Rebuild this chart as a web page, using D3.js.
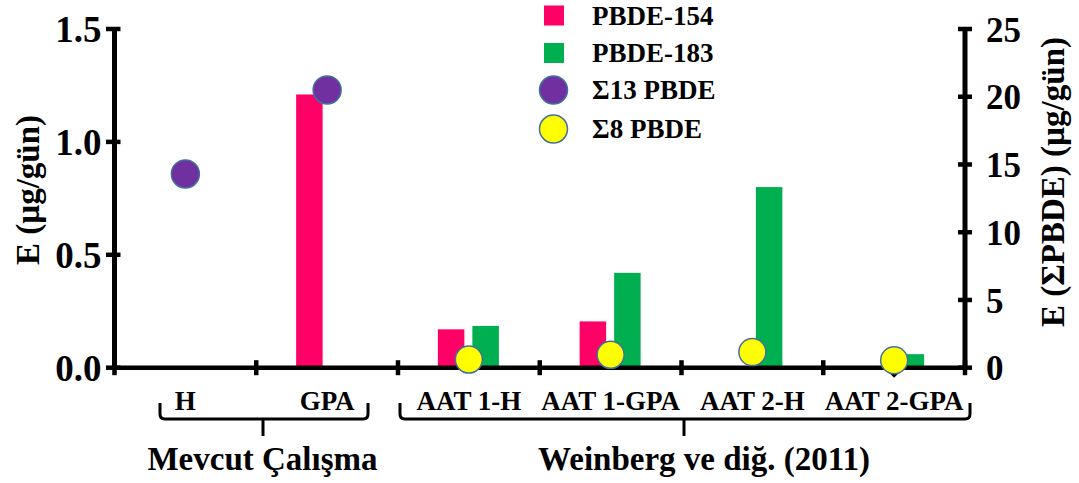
<!DOCTYPE html>
<html>
<head>
<meta charset="utf-8">
<script src="https://cdn.jsdelivr.net/npm/d3@7"></script>
<style>
  html, body { margin: 0; padding: 0; background: #fff; }
  svg { display: block; }
  text { font-family: "Liberation Serif", "Times New Roman", serif; font-weight: bold; fill: #000; }
</style>
</head>
<body>
<svg id="chart" width="1079" height="483"></svg>
<script>
// ---- data ----
const categories = ["H", "GPA", "AAT 1-H", "AAT 1-GPA", "AAT 2-H", "AAT 2-GPA"];
const pbde154 = [null, 1.21, 0.17, 0.205, null, null];      // left axis
const pbde183 = [null, null, 0.185, 0.42, 0.80, 0.06];      // left axis
const sum13   = [14.3, 20.5, null, null, null, null];       // right axis
const sum8    = [null, null, 0.6, 0.95, 1.15, 0.55];        // right axis
const leftTicks  = [0, 0.5, 1.0, 1.5];
const rightTicks = [0, 5, 10, 15, 20, 25];
const groups = [
  { label: "Mevcut Çalışma", from: 0, to: 1 },
  { label: "Weinberg ve diğ. (2011)", from: 2, to: 5 }
];
const legendItems = [
  { label: "PBDE-154", type: "square", color: "#FF0066" },
  { label: "PBDE-183", type: "square", color: "#00B050" },
  { label: "Σ13 PBDE", type: "circle", color: "#7030A0" },
  { label: "Σ8 PBDE",  type: "circle", color: "#FFFF00" }
];

// ---- layout ----
const svg = d3.select("#chart");
const X0 = 114.5, X1 = 965, Y0 = 367.7, YT = 29;
const x = d3.scaleBand().domain(categories).range([X0, X1]).padding(0);
const yL = d3.scaleLinear().domain([0, 1.5]).range([Y0, YT]);
const yR = d3.scaleLinear().domain([0, 25]).range([Y0, YT]);
const xc = c => x(c) + x.bandwidth() / 2;
const barW = 26.5;
const markerStroke = "#41719C";

// bars
const g = svg.append("g");
categories.forEach((c, i) => {
  if (pbde154[i] != null) {
    g.append("rect").attr("x", xc(c) - 31).attr("width", barW)
      .attr("y", yL(pbde154[i])).attr("height", Y0 - yL(pbde154[i]))
      .attr("fill", "#FF0066");
  }
  if (pbde183[i] != null) {
    g.append("rect").attr("x", xc(c) + 3.5).attr("width", barW)
      .attr("y", yL(pbde183[i])).attr("height", Y0 - yL(pbde183[i]))
      .attr("fill", "#00B050");
  }
});

// small marker artifact below last circle
svg.append("path")
  .attr("d", `M${xc(categories[5]) - 6},${Y0 + 4} L${xc(categories[5]) + 6},${Y0 + 4} L${xc(categories[5])},${Y0 + 10} Z`)
  .attr("fill", "#000");

// x axis line & ticks
svg.append("line").attr("x1", X0 - 2).attr("x2", X1 + 2).attr("y1", Y0).attr("y2", Y0)
  .attr("stroke", "#000").attr("stroke-width", 4.5);
const tickXs = categories.map(c => x(c)).concat([X1]);
tickXs.forEach(tx => {
  svg.append("line").attr("x1", tx).attr("x2", tx).attr("y1", Y0 - 7.5).attr("y2", Y0 + 7.5)
    .attr("stroke", "#000").attr("stroke-width", 4.5);
});

// left axis
const leftAxis = d3.axisLeft(yL).tickValues(leftTicks).tickFormat(d3.format(".1f")).tickSize(0).tickPadding(0);
const la = svg.append("g").attr("transform", `translate(${X0},0)`).call(leftAxis);
la.select(".domain").remove();
la.selectAll("text").attr("x", -13).attr("dy", "0.35em").style("font-size", "37px")
  .style("font-family", "'Liberation Serif', serif").style("font-weight", "bold");
svg.append("line").attr("x1", X0).attr("x2", X0).attr("y1", YT - 2).attr("y2", Y0 + 2)
  .attr("stroke", "#000").attr("stroke-width", 5);
leftTicks.forEach(t => {
  svg.append("line").attr("x1", X0 - 8.5).attr("x2", X0 + 6).attr("y1", yL(t)).attr("y2", yL(t))
    .attr("stroke", "#000").attr("stroke-width", 4.5);
});

// right axis
const rightAxis = d3.axisRight(yR).tickValues(rightTicks).tickFormat(d3.format("d")).tickSize(0).tickPadding(0);
const ra = svg.append("g").attr("transform", `translate(${X1},0)`).call(rightAxis);
ra.select(".domain").remove();
ra.selectAll("text").attr("x", 21).attr("dy", "0.35em").style("font-size", "35px")
  .style("font-family", "'Liberation Serif', serif").style("font-weight", "bold");
svg.append("line").attr("x1", X1).attr("x2", X1).attr("y1", YT - 2).attr("y2", Y0 + 2)
  .attr("stroke", "#000").attr("stroke-width", 5);
rightTicks.forEach(t => {
  svg.append("line").attr("x1", X1 - 7).attr("x2", X1 + 7).attr("y1", yR(t)).attr("y2", yR(t))
    .attr("stroke", "#000").attr("stroke-width", 4.5);
});

// circles (right axis)
categories.forEach((c, i) => {
  if (sum13[i] != null) {
    svg.append("circle").attr("cx", xc(c)).attr("cy", yR(sum13[i])).attr("r", 14)
      .attr("fill", "#7030A0").attr("stroke", markerStroke).attr("stroke-width", 1.5);
  }
  if (sum8[i] != null) {
    svg.append("circle").attr("cx", xc(c)).attr("cy", yR(sum8[i])).attr("r", 13.5)
      .attr("fill", "#FFFF00").attr("stroke", markerStroke).attr("stroke-width", 1.5);
  }
});

// axis titles
svg.append("text").attr("transform", "translate(28,190) rotate(-90)")
  .attr("text-anchor", "middle").attr("dominant-baseline", "central")
  .style("font-size", "33px").text("E (µg/gün)");
svg.append("text").attr("transform", "translate(1053,182) rotate(-90)")
  .attr("text-anchor", "middle").attr("dominant-baseline", "central")
  .style("font-size", "33px").text("E (ΣPBDE) (µg/gün)");

// category labels
categories.forEach(c => {
  svg.append("text").attr("x", xc(c)).attr("y", 410).attr("text-anchor", "middle")
    .style("font-size", "27px").text(c);
});

// group brackets
const brackets = [
  { x1: 160, x2: 368, mid: 263 },
  { x1: 400, x2: 970, mid: 684 }
];
brackets.forEach(b => {
  const top = 403, bot = 419, r = 5;
  svg.append("path")
    .attr("d", `M${b.x1},${top} L${b.x1},${bot - r} Q${b.x1},${bot} ${b.x1 + r},${bot} L${b.x2 - r},${bot} Q${b.x2},${bot} ${b.x2},${bot - r} L${b.x2},${top} M${b.mid},${bot} L${b.mid},${bot + 17}`)
    .attr("fill", "none").attr("stroke", "#000").attr("stroke-width", 3);
});
svg.append("text").attr("x", 262.5).attr("y", 470).attr("text-anchor", "middle")
  .style("font-size", "33px").text(groups[0].label);
svg.append("text").attr("x", 704).attr("y", 470).attr("text-anchor", "middle")
  .style("font-size", "33px").text(groups[1].label);

// legend
const legY = [15.5, 53, 90, 129];
legendItems.forEach((it, i) => {
  if (it.type === "square") {
    svg.append("rect").attr("x", 544).attr("y", legY[i] - 10).attr("width", 20).attr("height", 20).attr("fill", it.color);
  } else {
    svg.append("circle").attr("cx", 553.5).attr("cy", legY[i]).attr("r", 14)
      .attr("fill", it.color).attr("stroke", markerStroke).attr("stroke-width", 1.5);
  }
  svg.append("text").attr("x", 592).attr("y", legY[i]).attr("dominant-baseline", "central")
    .style("font-size", "27px").text(it.label);
});
</script>
</body>
</html>
